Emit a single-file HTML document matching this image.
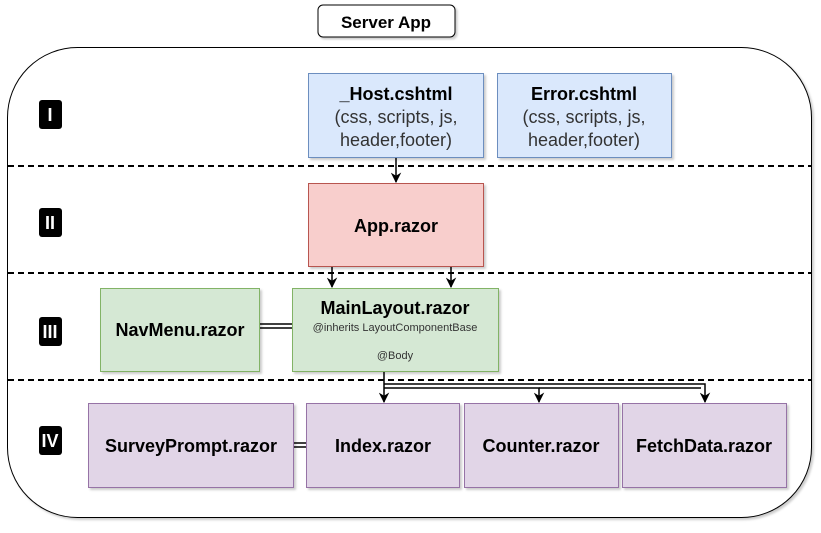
<!DOCTYPE html>
<html><head><style>
body{margin:0;background:#fff;}
svg text{font-family:"Liberation Sans",Arial,sans-serif;}
</style></head><body>
<svg width="821" height="528" viewBox="0 0 821 528" xmlns="http://www.w3.org/2000/svg">
<defs>
<marker id="a" viewBox="0 0 10 10" refX="9" refY="5" markerWidth="7" markerHeight="7" orient="auto"><path d="M0,0 L10,5 L0,10 L3,5 z" fill="#000"/></marker>
<filter id="s" x="-5%" y="-5%" width="115%" height="115%"><feDropShadow dx="2" dy="2" stdDeviation="1" flood-color="#000" flood-opacity="0.2"/></filter>
</defs>
<rect x="318" y="5" width="137" height="32" rx="5" fill="#fff" stroke="#000" filter="url(#s)"/>
<text x="386" y="28" text-anchor="middle" font-weight="bold" font-size="17">Server App</text>
<rect x="7.5" y="47.5" width="804" height="470" rx="70" fill="#fff" stroke="#000" filter="url(#s)"/>
<g stroke="#000" stroke-width="2" stroke-dasharray="6,4">
<line x1="8" y1="166" x2="811" y2="166"/><line x1="8" y1="273" x2="811" y2="273"/><line x1="8" y1="380" x2="811" y2="380"/>
</g>
<g fill="#000">
<rect x="39" y="100" width="23" height="29" rx="3"/><rect x="39" y="208" width="23" height="29" rx="3"/>
<rect x="39" y="317" width="23" height="29" rx="3"/><rect x="39" y="426" width="23" height="29" rx="3"/>
</g>
<g fill="#fff" font-weight="bold" font-size="18" text-anchor="middle">
<text x="50" y="121">I</text><text x="50" y="229">II</text><text x="50" y="338">III</text><text x="50" y="447">IV</text>
</g>
<g filter="url(#s)">
<rect x="308.5" y="73.5" width="175" height="84" fill="#dae8fc" stroke="#6c8ebf"/>
<rect x="497.5" y="73.5" width="174" height="84" fill="#dae8fc" stroke="#6c8ebf"/>
<rect x="308.5" y="183.5" width="175" height="83" fill="#f8cecc" stroke="#b85450"/>
<rect x="100.5" y="288.5" width="159" height="83" fill="#d5e8d4" stroke="#82b366"/>
<rect x="292.5" y="288.5" width="206" height="83" fill="#d5e8d4" stroke="#82b366"/>
<rect x="88.5" y="403.5" width="205" height="84" fill="#e1d5e7" stroke="#9673a6"/>
<rect x="306.5" y="403.5" width="153" height="84" fill="#e1d5e7" stroke="#9673a6"/>
<rect x="464.5" y="403.5" width="154" height="84" fill="#e1d5e7" stroke="#9673a6"/>
<rect x="622.5" y="403.5" width="164" height="84" fill="#e1d5e7" stroke="#9673a6"/>
</g>
<g font-size="18" text-anchor="middle" fill="#000">
<text x="396" y="100" font-weight="bold">_Host.cshtml</text>
<text x="396" y="123" fill="#333">(css, scripts, js,</text>
<text x="396" y="146" fill="#333">header,footer)</text>
<text x="584" y="100" font-weight="bold">Error.cshtml</text>
<text x="584" y="123" fill="#333">(css, scripts, js,</text>
<text x="584" y="146" fill="#333">header,footer)</text>
<text x="396" y="232" font-weight="bold">App.razor</text>
<text x="180" y="336" font-weight="bold">NavMenu.razor</text>
<text x="395" y="314" font-weight="bold">MainLayout.razor</text>
<text x="395" y="331" font-size="11" fill="#333">@inherits LayoutComponentBase</text>
<text x="395" y="359" font-size="11" fill="#333">@Body</text>
<text x="191" y="452" font-weight="bold">SurveyPrompt.razor</text>
<text x="383" y="452" font-weight="bold">Index.razor</text>
<text x="541" y="452" font-weight="bold">Counter.razor</text>
<text x="704" y="452" font-weight="bold">FetchData.razor</text>
</g>
<g stroke="#000" stroke-width="1.5" fill="none">
<line x1="396" y1="158" x2="396" y2="182" marker-end="url(#a)"/>
<line x1="332" y1="267" x2="332" y2="287" marker-end="url(#a)"/>
<line x1="451" y1="267" x2="451" y2="287" marker-end="url(#a)"/>
<line x1="260" y1="324" x2="292" y2="324"/><line x1="260" y1="328" x2="292" y2="328"/>
<line x1="294" y1="443" x2="306" y2="443"/><line x1="294" y1="447" x2="306" y2="447"/>
<line x1="384" y1="372" x2="384" y2="402" marker-end="url(#a)"/>
<path d="M384,384 H705 V402" marker-end="url(#a)"/>
<path d="M384,388 H539 V402" marker-end="url(#a)"/>
<line x1="539" y1="388" x2="701" y2="388"/>
</g>
</svg>
</body></html>
